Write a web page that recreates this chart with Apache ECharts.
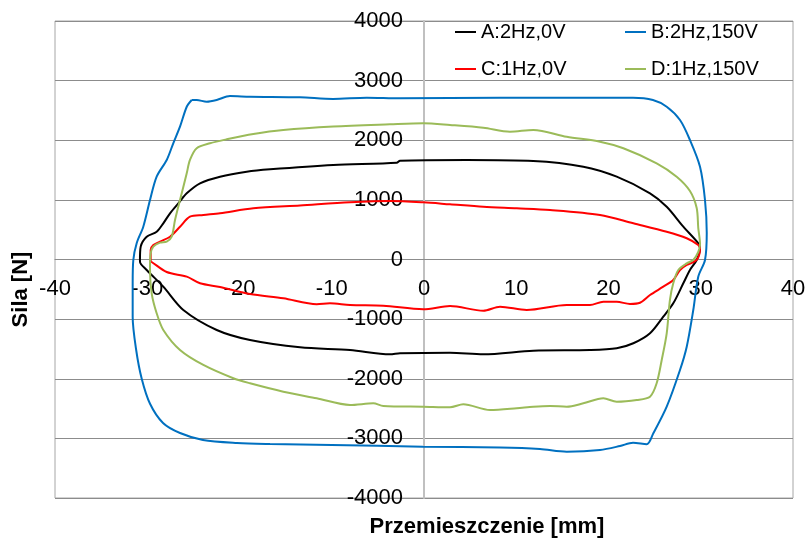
<!DOCTYPE html>
<html>
<head>
<meta charset="utf-8">
<script src="https://cdn.jsdelivr.net/npm/echarts@6/dist/echarts.min.js"></script>
<style>
html,body{margin:0;padding:0;background:#fff;}
#chart{width:807px;height:541px;}
</style>
</head>
<body>
<div id="chart"></div>
<script>
// Axis settings
const xTicks = [-40, -30, -20, -10, 0, 10, 20, 30, 40];
const yTicks = [-4000, -3000, -2000, -1000, 0, 1000, 2000, 3000, 4000];
const seriesNames = ['A:2Hz,0V', 'B:2Hz,150V', 'C:1Hz,0V', 'D:1Hz,150V'];
const seriesColors = ['#000000', '#0070C0', '#FF0000', '#9BBB59'];

// A: 2Hz, 0V  [displacement mm, force N]
const loopA = [
  [-30.79,-8],[-30.71,215],[-30.06,382],[-28.98,466],[-28.26,607],[-27.53,775],[-26.63,942],
  [-25.72,1110],[-24.28,1278],[-22.11,1389],[-19.22,1472],[-16.69,1512],[-9.83,1585],[-2.96,1623],
  [-2.60,1657],[4.63,1669],[11.85,1652],[17.27,1556],[20.89,1389],[24.50,1110],[26.31,885],
  [28.11,550],[29.73,272],[29.92,188],[29.56,-8],[28.83,-176],[28.11,-399],[27.02,-735],
  [25.94,-959],[24.50,-1237],[22.69,-1405],[20.89,-1489],[17.99,-1518],[11.85,-1529],[6.43,-1590],
  [2.82,-1563],[-2.60,-1573],[-3.69,-1590],[-8.02,-1518],[-13.44,-1472],[-18.86,-1350],
  [-22.47,-1182],[-26.09,-847],[-28.26,-456],[-30.06,-176],[-30.79,-37],[-30.79,-8]
];

// B: 2Hz, 150V
const loopB = [
  [-25.18,2675],[-24.64,2675],[-23.56,2646],[-22.47,2675],[-21.03,2742],[-18.86,2730],[-13.44,2720],
  [-9.86,2692],[-6.21,2713],[-2.60,2703],[8.24,2713],[22.66,2713],[24.82,2675],[26.31,2562],
  [27.75,2339],[28.83,2004],[29.92,1556],[30.46,998],[30.65,444],[30.46,-8],[29.73,-288],
  [29.19,-847],[28.48,-1462],[27.75,-1853],[26.31,-2468],[24.86,-2915],[24.14,-3100],[22.66,-3072],
  [21.25,-3128],[19.08,-3195],[15.47,-3223],[12.57,-3178],[8.24,-3153],[-0.11,-3139],[-10.0,-3111],
  [-16.69,-3094],[-20.27,-3077],[-23.96,-3027],[-26.45,-2910],[-28.29,-2742],[-29.70,-2420],
  [-30.60,-2000],[-31.20,-1518],[-31.58,-964],[-31.58,-394],[-31.51,-8],[-31.14,277],[-30.43,550],
  [-29.70,998],[-28.98,1389],[-27.89,1669],[-27.18,1949],[-26.45,2227],[-25.72,2562],[-25.18,2675]
];

// C: 1Hz, 0V
const loopC = [
  [-29.63,-37],[-29.63,159],[-29.34,243],[-28.62,299],[-27.53,382],[-26.45,550],[-25.37,718],
  [-23.92,746],[-22.11,775],[-18.50,859],[-13.44,906],[-8.02,959],[-3.69,981],[-0.08,959],
  [2.82,926],[6.43,885],[10.05,859],[13.66,830],[19.08,746],[22.69,607],[26.31,466],[28.48,356],
  [29.73,243],[29.92,188],[29.56,-8],[28.48,-92],[27.75,-176],[27.02,-344],[25.94,-456],
  [24.50,-595],[23.41,-725],[22.33,-746],[20.89,-708],[19.44,-708],[17.99,-763],[15.47,-763],
  [11.13,-847],[8.24,-792],[6.43,-859],[2.82,-780],[-0.08,-835],[-4.41,-775],[-8.02,-763],
  [-10.19,-735],[-11.63,-751],[-15.25,-651],[-18.86,-579],[-22.11,-461],[-24.28,-399],
  [-25.72,-288],[-27.89,-210],[-29.52,-42],[-29.63,-37]
];

// D: 1Hz, 150V
const loopD = [
  [-29.70,-121],[-29.63,104],[-29.34,215],[-28.62,282],[-27.89,299],[-27.35,382],[-26.99,662],
  [-26.45,998],[-25.72,1446],[-25.37,1669],[-24.64,1865],[-23.20,1949],[-21.39,2016],[-18.50,2105],
  [-15.25,2172],[-9.83,2230],[-3.69,2267],[-0.08,2284],[2.82,2256],[6.43,2210],[9.32,2143],
  [11.85,2172],[15.47,2059],[19.08,1975],[21.61,1865],[25.22,1613],[27.39,1389],[28.83,1149],
  [29.56,864],[29.73,528],[29.92,260],[29.73,126],[29.19,-8],[28.48,-64],[27.57,-176],
  [27.02,-399],[26.66,-679],[26.31,-1238],[25.77,-1685],[25.22,-2076],[24.50,-2301],[23.06,-2356],
  [20.89,-2385],[19.44,-2328],[17.27,-2412],[15.47,-2469],[13.66,-2457],[11.85,-2469],[10.05,-2495],
  [7.15,-2524],[4.26,-2428],[2.82,-2479],[-0.08,-2469],[-4.41,-2457],[-5.50,-2412],[-8.02,-2440],
  [-11.63,-2328],[-15.25,-2217],[-18.86,-2076],[-20.67,-1992],[-23.92,-1769],[-26.45,-1518],
  [-28.26,-1182],[-28.98,-902],[-29.52,-567],[-29.70,-176],[-29.70,-121]
];

const loops = [loopA, loopB, loopC, loopD];
const FONT = 'Liberation Sans, Arial, sans-serif';

const chart = echarts.init(document.getElementById('chart'), null, {renderer: 'canvas'});

const legendPos = [[455, 22], [625, 22], [455, 59], [625, 59]];

// grid geometry: left 55, right edge 793, top 21, bottom edge 498
const option = {
  backgroundColor: '#ffffff',
  animation: false,
  grid: {
    left: 55, right: 14, top: 21, bottom: 43,
    containLabel: false,
    outerBoundsMode: 'none',
    show: true, borderColor: '#a6a6a6', borderWidth: 1
  },
  legend: seriesNames.map((n, i) => ({
    data: [{name: n, icon: 'rect'}],
    left: legendPos[i][0], top: legendPos[i][1],
    padding: 0,
    itemWidth: 21, itemHeight: 2,
    textStyle: {fontFamily: FONT, fontSize: 20, color: '#000'},
    selectedMode: false
  })),
  xAxis: {
    type: 'value',
    position: 'bottom',
    offset: -238.5,
    min: xTicks[0], max: xTicks[xTicks.length - 1], interval: 10,
    axisLine: {onZero: false, lineStyle: {color: '#8c8c8c', width: 1}},
    axisTick: {show: false},
    splitLine: {show: false},
    axisLabel: {fontFamily: FONT, fontSize: 22, color: '#000', margin: 18, formatter: v => String(v)},
    name: 'Przemieszczenie [mm]',
    nameLocation: 'middle',
    nameGap: 256,
    nameTextStyle: {fontFamily: FONT, fontSize: 22, fontWeight: 'bold', color: '#000', padding: [0, 0, 0, 126]}
  },
  yAxis: {
    type: 'value',
    position: 'left',
    offset: -369,
    min: yTicks[0], max: yTicks[yTicks.length - 1], interval: 1000,
    axisLine: {onZero: false, lineStyle: {color: '#c0c0c0', width: 2}},
    axisTick: {show: false},
    splitLine: {show: true, lineStyle: {color: '#8c8c8c', width: 1}},
    axisLabel: {fontFamily: FONT, fontSize: 22, color: '#000', margin: 21, formatter: v => String(v)},
    name: 'Sila [N]',
    nameLocation: 'middle',
    nameGap: 392,
    nameRotate: 90,
    nameTextStyle: {fontFamily: FONT, fontSize: 22, fontWeight: 'bold', color: '#000', padding: [0, 60, 0, 0]}
  },
  series: loops.map((d, i) => ({
    name: seriesNames[i],
    type: 'line',
    data: d,
    showSymbol: false,
    symbol: 'none',
    smooth: 0.3,
    lineStyle: {color: seriesColors[i], width: 2},
    itemStyle: {color: seriesColors[i]},
    z: 2 + i
  }))
};
chart.setOption(option);
</script>
</body>
</html>
